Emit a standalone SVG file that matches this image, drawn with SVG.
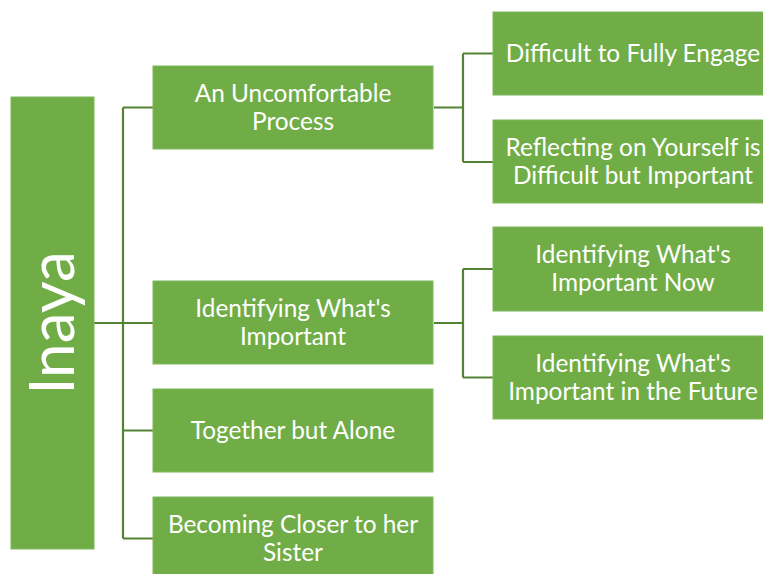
<svg xmlns="http://www.w3.org/2000/svg" width="763" height="574" viewBox="0 0 763 574">
  <style>
    .box { fill: #70AD47; stroke: #7fb85a; stroke-width: 1; }
    .lbl { fill: #ffffff; font-family: Lato, "Liberation Sans", sans-serif; font-size: 24.4px; text-anchor: middle; }
    .root { fill: #ffffff; font-family: Lato, "Liberation Sans", sans-serif; font-size: 62px; text-anchor: middle; }
    .link { fill: none; stroke: #548235; stroke-width: 2.2; }
  </style>
  <rect width="763" height="574" fill="#ffffff"/>

  <!-- connectors -->
  <g id="connectors">
    <path class="link" d="M94 323 H123 M123 107.5 V538.5 M123 107.5 H153 M123 323 H153 M123 430.5 H153 M123 538.5 H153"/>
    <path class="link" d="M434 107.5 H463 M463 53.5 V162 M463 53.5 H493 M463 162 H493"/>
    <path class="link" d="M434 323 H463 M463 269 V377.5 M463 269 H493 M463 377.5 H493"/>
  </g>

  <!-- root -->
  <g id="inaya">
    <rect class="box" x="11" y="97" width="83" height="452"/>
    <text class="root" transform="translate(74 323) rotate(-90)">Inaya</text>
  </g>

  <!-- first level -->
  <g id="uncomfortable-process">
    <rect class="box" x="153" y="66" width="280" height="83"/>
    <text class="lbl" x="293" y="102">An Uncomfortable</text>
    <text class="lbl" x="293" y="130">Process</text>
  </g>
  <g id="identifying-important">
    <rect class="box" x="153" y="281" width="280" height="83"/>
    <text class="lbl" x="293" y="317">Identifying What's</text>
    <text class="lbl" x="293" y="345">Important</text>
  </g>
  <g id="together-alone">
    <rect class="box" x="153" y="389" width="280" height="83"/>
    <text class="lbl" x="293" y="439">Together but Alone</text>
  </g>
  <g id="closer-sister">
    <rect class="box" x="153" y="497" width="280" height="83"/>
    <text class="lbl" x="293" y="533">Becoming Closer to her</text>
    <text class="lbl" x="293" y="561">Sister</text>
  </g>

  <!-- second level -->
  <g id="fully-engage">
    <rect class="box" x="493" y="12" width="280" height="83"/>
    <text class="lbl" x="633" y="62">Difficult to Fully Engage</text>
  </g>
  <g id="reflecting">
    <rect class="box" x="493" y="120" width="280" height="83"/>
    <text class="lbl" x="633" y="156">Reflecting on Yourself is</text>
    <text class="lbl" x="633" y="184">Difficult but Important</text>
  </g>
  <g id="important-now">
    <rect class="box" x="493" y="227" width="280" height="84"/>
    <text class="lbl" x="633" y="263">Identifying What's</text>
    <text class="lbl" x="633" y="291">Important Now</text>
  </g>
  <g id="important-future">
    <rect class="box" x="493" y="336" width="280" height="83"/>
    <text class="lbl" x="633" y="372">Identifying What's</text>
    <text class="lbl" x="633" y="400">Important in the Future</text>
  </g>
</svg>
